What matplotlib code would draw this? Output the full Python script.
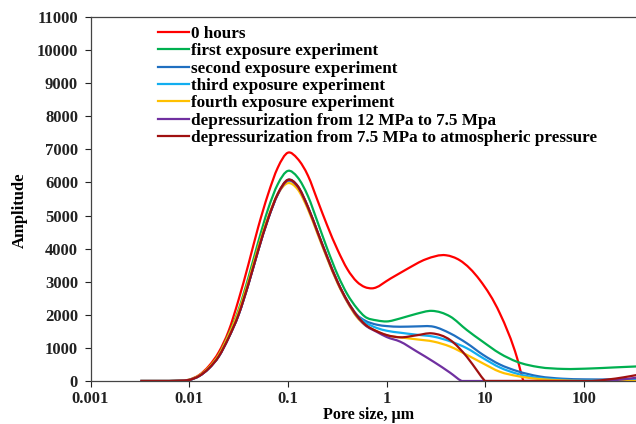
import numpy as np
import matplotlib
matplotlib.use("Agg")
import matplotlib.pyplot as plt
from matplotlib.path import Path
from matplotlib.patches import PathPatch
from matplotlib.ticker import FixedLocator, FixedFormatter, NullLocator

plt.rcParams['font.family'] = ['Liberation Serif', 'DejaVu Serif']
plt.rcParams['font.weight'] = 'bold'

# series labels / colours (legend order)
labels = ["0 hours",
          "first exposure experiment",
          "second exposure experiment",
          "third exposure experiment",
          "fourth exposure experiment",
          "depressurization from 12 MPa to 7.5 Mpa",
          "depressurization from 7.5 MPa to atmospheric pressure"]
colors = ["#ff0000", "#00b050", "#1f6fc0", "#12aef0", "#ffc000", "#7030a0", "#a01010"]

# pore size (um), shared by the main peak of every curve
size_peak = [0.0032, 0.0063, 0.01, 0.0126, 0.0158, 0.02, 0.025, 0.0316, 0.04, 0.05, 0.063, 0.079,
             0.1, 0.125, 0.16, 0.2, 0.25, 0.32, 0.4, 0.5, 0.6]

# amplitude on the main peak
peak_0h = [0, 0, 40, 180, 450, 880, 1500, 2450, 3550, 4650, 5650, 6450,
           6900, 6720, 6200, 5450, 4700, 3950, 3380, 3000, 2840]
peak_1st = [0, 0, 35, 160, 400, 800, 1400, 2150, 3150, 4200, 5200, 5950,
            6350, 6160, 5580, 4800, 4000, 3200, 2620, 2200, 1950]
peak_2nd = [0, 0, 30, 150, 380, 750, 1300, 2000, 2950, 3950, 4900, 5650,
            6080, 5900, 5250, 4500, 3750, 2980, 2420, 2000, 1830]
peak_3rd = [0, 0, 30, 150, 380, 750, 1300, 2000, 2950, 3950, 4900, 5640,
            6050, 5870, 5230, 4480, 3730, 2970, 2410, 1980, 1780]
peak_4th = [0, 0, 35, 170, 410, 800, 1380, 2100, 3050, 4050, 4960, 5650,
            5980, 5800, 5180, 4440, 3700, 2940, 2380, 1930, 1700]
peak_dp1 = [0, 0, 30, 150, 380, 750, 1300, 2000, 2950, 3950, 4900, 5640,
            6060, 5880, 5240, 4490, 3740, 2970, 2400, 1960, 1700]
peak_dp2 = [0, 0, 30, 150, 380, 750, 1300, 2000, 2950, 3950, 4900, 5660,
            6080, 5900, 5250, 4500, 3750, 2980, 2420, 1980, 1720]

# pore size (um) and amplitude beyond the main peak
size_0h = [0.71, 1.1, 1.6, 2.5, 4.0, 5.5, 8.8, 14, 21, 24.3, 40, 340]
amp_0h = [2800, 3100, 3380, 3680, 3800, 3650, 3050, 2050, 690, 0, 0, 0]

size_1st = [0.8, 1.0, 1.37, 2.0, 2.87, 4.4, 6.5, 9.3, 14, 21, 35, 62, 120, 200, 340]
amp_1st = [1830, 1800, 1890, 2030, 2120, 1950, 1540, 1200, 835, 580, 420, 365, 380, 410, 440]

size_2nd = [0.8, 1.0, 1.37, 2.0, 3.0, 4.4, 6.5, 9.5, 14, 21, 35, 60, 100, 200, 340]
amp_2nd = [1700, 1660, 1640, 1650, 1640, 1440, 1140, 790, 500, 300, 140, 70, 50, 50, 60]

size_3rd = [0.8, 1.0, 1.37, 2.0, 3.0, 4.4, 6.5, 9.5, 14, 21, 35, 60, 100, 200, 340]
amp_3rd = [1600, 1520, 1460, 1400, 1340, 1200, 990, 690, 410, 220, 90, 40, 20, 20, 20]

size_4th = [0.8, 1.0, 1.37, 2.0, 3.0, 4.4, 6.5, 9.5, 14, 21, 35, 60, 100, 200, 340]
amp_4th = [1500, 1380, 1320, 1260, 1190, 1040, 790, 530, 280, 150, 60, 20, 0, 0, 0]

size_dp1 = [0.8, 1.0, 1.37, 2.0, 3.0, 4.4, 5.76, 10, 50, 150, 250, 340]
amp_dp1 = [1480, 1330, 1190, 900, 580, 250, 0, 0, 0, 0, 50, 100]

size_dp2 = [0.8, 1.0, 1.37, 2.0, 2.87, 4.4, 6.5, 8.4, 9.9, 20, 60, 120, 250, 340]
amp_dp2 = [1500, 1390, 1320, 1380, 1440, 1240, 730, 280, 0, 0, 0, 0, 110, 180]

series = [(peak_0h, size_0h, amp_0h), (peak_1st, size_1st, amp_1st), (peak_2nd, size_2nd, amp_2nd),
          (peak_3rd, size_3rd, amp_3rd), (peak_4th, size_4th, amp_4th), (peak_dp1, size_dp1, amp_dp1),
          (peak_dp2, size_dp2, amp_dp2)]


def smooth_path(xs, ys):
    # smoothed line (cubic Hermite pieces as beziers) in log10(x) space
    lx = np.log10(xs)
    y = np.asarray(ys, float)
    n = len(lx)
    h = np.diff(lx)
    d = np.diff(y) / h
    m = np.empty(n)
    m[0], m[-1] = d[0], d[-1]
    m[1:-1] = (h[1:] * d[:-1] + h[:-1] * d[1:]) / (h[:-1] + h[1:])
    verts = [(lx[0], y[0])]
    codes = [Path.MOVETO]
    for i in range(n - 1):
        t = h[i] / 3
        verts += [(lx[i] + t, y[i] + m[i] * t), (lx[i + 1] - t, y[i + 1] - m[i + 1] * t), (lx[i + 1], y[i + 1])]
        codes += [Path.CURVE4] * 3
    v = np.array(verts)
    v[:, 1] = np.maximum(v[:, 1], 0)
    v[:, 0] = 10 ** v[:, 0]
    return Path(v, codes)


fig = plt.figure(figsize=(6.36, 4.24), dpi=100)
ax = fig.add_axes([0.1423, 0.1014, 0.8577, 0.8585])
ax.set_xscale('log')

for (peak, xs, ys), lab, col in zip(series, labels, colors):
    path = smooth_path(size_peak + xs, peak + ys)
    ax.add_patch(PathPatch(path, fill=False, edgecolor=col, lw=1.6))
    ax.plot([], [], color=col, lw=1.6, label=lab)

ax.set_xlim(0.001, 336)
ax.set_ylim(0, 11000)

xticks = [0.001, 0.01, 0.1, 1, 10, 100]
ax.xaxis.set_major_locator(FixedLocator(xticks))
ax.xaxis.set_major_formatter(FixedFormatter(["0.001", "0.01", "0.1", "1", "10", "100"]))
ax.xaxis.set_minor_locator(NullLocator())
ax.set_yticks(np.arange(0, 11001, 1000))
ax.tick_params(axis='both', direction='out', length=4, width=0.8, labelsize=12, colors='#222222')
ax.tick_params(axis='x', pad=3.5)
ax.tick_params(axis='y', pad=5)

ax.spines['right'].set_visible(False)
for s in ['left', 'top', 'bottom']:
    ax.spines[s].set_color('#444444')
    ax.spines[s].set_linewidth(0.9)

ax.set_xlabel("Pore size, µm", fontsize=11.5, fontweight='bold', va='bottom')
ax.xaxis.set_label_coords(0.509, -0.1154)
ax.set_ylabel("Amplitude", fontsize=12, fontweight='bold')
ax.yaxis.set_label_coords(-0.115, 0.47)

ax.legend(loc='upper left', bbox_to_anchor=(158 / 636, 1 - 26 / 424), bbox_transform=fig.transFigure,
          frameon=False, fontsize=12.3, handlelength=1.8, handletextpad=0.15, labelspacing=0.08,
          borderpad=0, borderaxespad=0)

fig.savefig("out.png", dpi=100)
